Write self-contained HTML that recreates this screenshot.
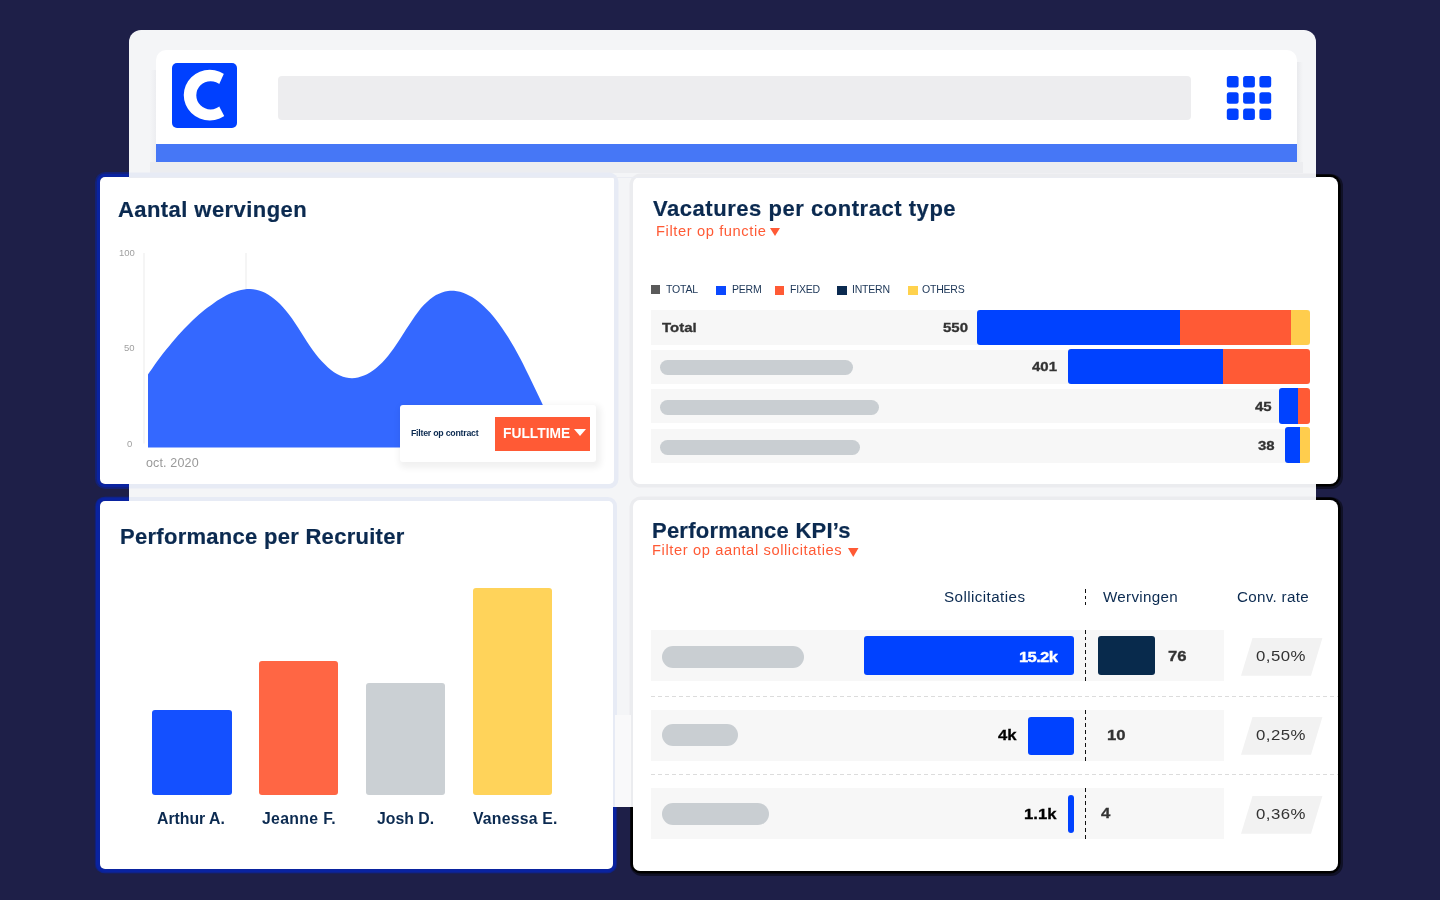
<!DOCTYPE html>
<html><head><meta charset="utf-8">
<style>
*{margin:0;padding:0;box-sizing:border-box}
html,body{width:1440px;height:900px;overflow:hidden;background:#1E1F48;font-family:"Liberation Sans",sans-serif}
.a{position:absolute}
.t{position:absolute;white-space:nowrap;line-height:1;will-change:transform}
.title{font-weight:bold;color:#0B2A50;font-size:22px;-webkit-text-stroke:0.2px #0B2A50}
.sub{color:#FF5A35;font-size:14.7px;letter-spacing:0.6px}
.num{font-weight:bold;color:#333;font-size:13px}
.vb{transform:scaleX(1.15);transform-origin:0 0;-webkit-text-stroke:0.3px currentColor}
.leg{font-size:10.5px;color:#1B3556;letter-spacing:-0.2px}
.pill{background:#C9CED2;border-radius:999px}
.bar{display:flex;border-radius:3px;overflow:hidden}
.bar>div{height:100%}
.lbl{font-weight:bold;color:#0B2A50;font-size:15.8px}
.hdr{color:#0B2A50;font-size:15.2px;letter-spacing:0.3px}
.dash{height:1px;background:repeating-linear-gradient(90deg,#DCDCDC 0 4px,transparent 4px 7px)}
.vdash{width:1.3px;background:repeating-linear-gradient(180deg,#111 0 3.7px,transparent 3.7px 6.7px)}
.pct{color:#333;font-size:14.6px;letter-spacing:0.4px;transform:scaleX(1.15);transform-origin:0 0}
</style></head>
<body>
<!-- dark shadows (outside browser) -->
<div class="a" style="left:100px;top:177px;width:514px;height:307px;border-radius:5px;box-shadow:0 0 0 3.2px #0A23A0,0 0 0 5px rgba(10,35,160,.5)"></div>
<div class="a" style="left:100px;top:501px;width:513px;height:368px;border-radius:5px;box-shadow:0 0 0 3px #0A23A0,-1px 0 0 3px #0A23A0,0 0 0 4.2px rgba(10,35,160,.5),-1px 0 0 4.2px rgba(10,35,160,.5)"></div>
<div class="a" style="left:633px;top:177px;width:705px;height:307px;border-radius:8px;box-shadow:0 0 0 2.6px #000,1px 1px 0 4px rgba(0,0,0,.45)"></div>
<div class="a" style="left:633px;top:500px;width:705px;height:371px;border-radius:8px;box-shadow:0 0 0 2.6px #000,1px 1px 0 4px rgba(0,0,0,.45)"></div>

<!-- browser window -->
<div class="a" style="left:129px;top:30px;width:1187px;height:777px;background:#F4F5F7;border-radius:12px;overflow:hidden">
  <!-- header shadow band -->
  <div class="a" style="left:21px;top:132px;width:1153px;height:11px;background:#ECEDF0"></div>
  <div class="a" style="left:1168px;top:32px;width:6px;height:100px;background:linear-gradient(90deg,#E9EAED,#F4F5F7)"></div>
  <div class="a" style="left:21px;top:40px;width:6px;height:92px;background:linear-gradient(270deg,#EDEEF1,#F4F5F7)"></div>
  <!-- light card shadows -->
  <div class="a" style="left:-29px;top:147px;width:514px;height:307px;border-radius:5px;box-shadow:0 0 0 4.5px #E7EBF5"></div>
  <div class="a" style="left:-29px;top:471px;width:513px;height:368px;border-radius:5px;box-shadow:0 0 0 4px #E7EBF5"></div>
  <div class="a" style="left:504px;top:147px;width:705px;height:307px;border-radius:8px;box-shadow:0 0 0 3.5px #EBECEF"></div>
  <div class="a" style="left:504px;top:470px;width:705px;height:371px;border-radius:8px;box-shadow:0 0 0 3.5px #EBECEF"></div>
  <div class="a" style="left:486px;top:685px;width:16px;height:92px;background:#F9F9FA"></div>
  <!-- header panel -->
  <div class="a" style="left:27px;top:20px;width:1141px;height:112px;background:#fff;border-radius:10px 10px 0 0;overflow:hidden">
    <div class="a" style="left:0;top:94px;width:1141px;height:18px;background:#4677F6"></div>
  </div>
</div>

<!-- header content -->
<div class="a" style="left:171.6px;top:63px;width:65.2px;height:65px;background:#0040FF;border-radius:5px"></div>
<svg class="a" style="left:0;top:0" width="1440" height="200" viewBox="0 0 1440 200">
  <path d="M183.75 95.1 A26 25.4 0 1 0 235.75 95.1 A26 25.4 0 1 0 183.75 95.1 Z M196.3 95.35 A14.3 14.15 0 1 0 224.9 95.35 A14.3 14.15 0 1 0 196.3 95.35 Z" fill="#fff" fill-rule="evenodd"/>
  <path d="M226.45 68 L219.6 83.2 L214.5 95.2 L219.6 107.2 L227.1 121.5 L236.8 121.5 L236.8 68 Z" fill="#0040FF"/>
</svg>
<div class="a" style="left:278px;top:76px;width:913px;height:44px;background:#EDEDEF;border-radius:4px"></div>
<svg class="a" style="left:1226px;top:76px" width="46" height="44" viewBox="0 0 46 44">
  <g fill="#0040FF">
    <rect x="0.8" y="0" width="11.8" height="11.5" rx="2.5"/><rect x="17.1" y="0" width="11.8" height="11.5" rx="2.5"/><rect x="33.4" y="0" width="11.8" height="11.5" rx="2.5"/>
    <rect x="0.8" y="16.3" width="11.8" height="11.5" rx="2.5"/><rect x="17.1" y="16.3" width="11.8" height="11.5" rx="2.5"/><rect x="33.4" y="16.3" width="11.8" height="11.5" rx="2.5"/>
    <rect x="0.8" y="32.5" width="11.8" height="11.5" rx="2.5"/><rect x="17.1" y="32.5" width="11.8" height="11.5" rx="2.5"/><rect x="33.4" y="32.5" width="11.8" height="11.5" rx="2.5"/>
  </g>
</svg>

<!-- CARD 1 -->
<div class="a" style="left:100px;top:177px;width:514px;height:307px;background:#fff;border-radius:5px 3px 5px 5px"></div>
<div id="t1" class="t title" style="left:118.3px;top:199.1px;letter-spacing:0.43px">Aantal wervingen</div>
<svg class="a" style="left:0;top:0" width="620" height="480" viewBox="0 0 620 480">
  <rect x="143.5" y="253" width="1" height="190.5" fill="#EBEBEB"/>
  <rect x="245.5" y="253" width="1" height="40" fill="#EBEBEB"/>
  <path d="M148,447.4 L148.0,374.5 C149.0,373.1 152.0,368.7 154.0,365.8 C156.0,363.0 158.0,360.3 160.0,357.6 C162.0,354.9 164.0,352.3 166.0,349.8 C168.0,347.3 170.0,344.8 172.0,342.4 C174.0,340.1 176.0,337.7 178.0,335.5 C180.0,333.3 182.0,331.1 184.0,329.0 C186.0,326.9 188.0,324.9 190.0,323.0 C192.0,321.0 194.0,319.1 196.0,317.3 C198.0,315.5 200.0,313.8 202.0,312.1 C204.0,310.4 206.0,308.8 208.0,307.3 C210.0,305.8 212.0,304.3 214.0,302.9 C216.0,301.5 218.0,300.2 220.0,299.0 C222.0,297.7 224.0,296.6 226.0,295.5 C228.0,294.5 230.0,293.6 232.0,292.8 C234.0,292.0 236.0,291.2 238.0,290.7 C240.0,290.1 242.0,289.7 244.0,289.4 C246.0,289.2 248.0,289.1 250.0,289.1 C252.0,289.2 254.0,289.4 256.0,289.8 C258.0,290.2 260.0,290.8 262.0,291.6 C264.0,292.4 266.0,293.3 268.0,294.5 C270.0,295.7 272.0,297.1 274.0,298.7 C276.0,300.3 278.0,302.1 280.0,304.1 C282.0,306.1 284.0,308.3 286.0,310.7 C288.0,313.1 290.0,315.8 292.0,318.6 C294.0,321.4 296.0,324.5 298.0,327.6 C300.0,330.7 302.0,334.0 304.0,337.1 C306.0,340.2 308.0,343.3 310.0,346.2 C312.0,349.1 314.0,351.9 316.0,354.4 C318.0,357.0 320.0,359.4 322.0,361.6 C324.0,363.7 326.0,365.8 328.0,367.5 C330.0,369.3 332.0,370.9 334.0,372.3 C336.0,373.6 338.0,374.8 340.0,375.6 C342.0,376.5 344.0,377.2 346.0,377.6 C348.0,378.0 350.0,378.2 352.0,378.2 C354.0,378.2 356.0,377.9 358.0,377.5 C360.0,377.1 362.0,376.4 364.0,375.6 C366.0,374.7 368.0,373.7 370.0,372.5 C372.0,371.2 374.0,369.8 376.0,368.2 C378.0,366.5 380.0,364.7 382.0,362.7 C384.0,360.6 386.0,358.4 388.0,356.0 C390.0,353.5 392.0,350.9 394.0,348.1 C396.0,345.3 398.0,342.2 400.0,339.1 C402.0,336.0 404.0,332.8 406.0,329.6 C408.0,326.5 410.0,323.3 412.0,320.4 C414.0,317.4 416.0,314.5 418.0,311.9 C420.0,309.3 422.0,306.9 424.0,304.8 C426.0,302.7 428.0,300.9 430.0,299.2 C432.0,297.6 434.0,296.3 436.0,295.1 C438.0,294.0 440.0,293.1 442.0,292.4 C444.0,291.7 446.0,291.2 448.0,290.9 C450.0,290.6 452.0,290.6 454.0,290.7 C456.0,290.9 458.0,291.2 460.0,291.7 C462.0,292.3 464.0,293.0 466.0,293.9 C468.0,294.8 470.0,295.8 472.0,297.1 C474.0,298.3 476.0,299.7 478.0,301.3 C480.0,302.8 482.0,304.6 484.0,306.5 C486.0,308.4 488.0,310.4 490.0,312.6 C492.0,314.9 494.0,317.3 496.0,319.8 C498.0,322.4 500.0,325.1 502.0,327.9 C504.0,330.8 506.0,333.9 508.0,337.0 C510.0,340.2 512.0,343.6 514.0,347.1 C516.0,350.6 518.0,354.3 520.0,358.1 C522.0,361.9 524.0,365.9 526.0,369.9 C528.0,373.9 530.0,378.1 532.0,382.2 C534.0,386.4 536.0,390.6 538.0,394.8 C540.0,399.0 542.0,403.2 544.0,407.4 C546.0,411.7 548.0,415.9 550.0,420.2 C552.0,424.4 554.0,428.7 556.0,433.0 C558.0,437.4 560.8,443.6 562.0,446.2 C563.2,448.8 562.8,448.1 563.0,448.4 L563.0,447.4 Z" fill="#3468FF"/>
</svg>
<div class="t" style="left:119px;top:248px;font-size:9.5px;color:#A0A0A0">100</div>
<div class="t" style="left:123.6px;top:343px;font-size:9.5px;color:#A0A0A0">50</div>
<div class="t" style="left:127.2px;top:438.5px;font-size:9.5px;color:#A0A0A0">0</div>
<div class="t" style="left:146.3px;top:457.2px;font-size:12.5px;letter-spacing:0.15px;color:#999">oct. 2020</div>
<!-- filter popup -->
<div class="a" style="left:400px;top:405px;width:196px;height:57px;background:#fff;border-radius:3px;box-shadow:2px 3px 6px 3px rgba(0,0,0,0.06)"></div>
<div class="t" style="left:411px;top:428.9px;font-size:8.8px;letter-spacing:-0.25px;font-weight:bold;color:#0B2A50">Filter op contract</div>
<div class="a" style="left:495.3px;top:417.3px;width:94.6px;height:33.3px;background:#FF5A35"></div>
<div class="t" style="left:503.3px;top:427px;font-size:13.8px;font-weight:bold;color:#fff">FULLTIME</div>
<svg class="a" style="left:574px;top:429px" width="12" height="7" viewBox="0 0 12 7"><path d="M0 0H12L6 7Z" fill="#fff"/></svg>

<!-- CARD 2 -->
<div class="a" style="left:633px;top:177px;width:705px;height:307px;background:#fff;border-radius:7px 8px 8px 7px"></div>
<div class="a" style="left:129px;top:177px;width:1187px;height:1px;background:#EAECF2"></div>
<div id="t2" class="t title" style="left:652.5px;top:198.2px;letter-spacing:0.54px">Vacatures per contract type</div>
<div id="s2" class="t sub" style="left:655.5px;top:223.7px">Filter op functie</div>
<svg class="a" style="left:770px;top:228px" width="10" height="8" viewBox="0 0 10 8"><path d="M0 0H10L5 8Z" fill="#FF5A35"/></svg>
<!-- legend -->
<div class="a" style="left:651px;top:285.3px;width:9px;height:9px;background:#5A5A5A"></div>
<div class="t leg" style="left:665.5px;top:284.3px">TOTAL</div>
<div class="a" style="left:716.3px;top:285.5px;width:9.8px;height:9.8px;background:#0A48FF"></div>
<div class="t leg" style="left:732px;top:284.3px">PERM</div>
<div class="a" style="left:774.7px;top:285.5px;width:9.5px;height:9.8px;background:#FF5A35"></div>
<div class="t leg" style="left:789.5px;top:284.3px">FIXED</div>
<div class="a" style="left:837px;top:285.5px;width:10px;height:9.8px;background:#0B2A50"></div>
<div class="t leg" style="left:852.3px;top:284.3px">INTERN</div>
<div class="a" style="left:907.7px;top:285.5px;width:10px;height:9.8px;background:#FFD24D"></div>
<div class="t leg" style="left:921.7px;top:284.3px">OTHERS</div>
<!-- rows -->
<div class="a" style="left:651px;top:310px;width:658.5px;height:34.5px;background:#F7F7F7"></div>
<div class="a" style="left:651px;top:349.5px;width:658.5px;height:34.5px;background:#F7F7F7"></div>
<div class="a" style="left:651px;top:389.3px;width:658.5px;height:34px;background:#F7F7F7"></div>
<div class="a" style="left:651px;top:428.8px;width:658.5px;height:34px;background:#F7F7F7"></div>
<div id="n_total" class="t num vb" style="left:662.2px;top:320.8px">Total</div>
<div id="n550" class="t num vb" style="left:943px;top:320.8px">550</div>
<div class="a pill" style="left:659.6px;top:359.8px;width:193.4px;height:15px"></div>
<div id="n401" class="t num vb" style="left:1031.8px;top:360.2px">401</div>
<div class="a pill" style="left:659.6px;top:399.9px;width:219px;height:15px"></div>
<div id="n45" class="t num vb" style="left:1254.7px;top:399.7px">45</div>
<div class="a pill" style="left:659.6px;top:439.8px;width:200.6px;height:15px"></div>
<div id="n38" class="t num vb" style="left:1258px;top:439.2px">38</div>
<!-- bars -->
<div class="a bar" style="left:977.4px;top:309.5px;width:332.4px;height:35.2px">
  <div style="width:203.1px;background:#0042FF"></div><div style="width:110.6px;background:#FF5A35"></div><div style="flex:1;background:#FFCD4D"></div>
</div>
<div class="a bar" style="left:1068.3px;top:348.8px;width:241.5px;height:35.5px">
  <div style="width:155.2px;background:#0042FF"></div><div style="flex:1;background:#FF5A35"></div>
</div>
<div class="a bar" style="left:1278.8px;top:388px;width:31px;height:35.5px">
  <div style="width:19.2px;background:#0042FF"></div><div style="flex:1;background:#FF5A35"></div>
</div>
<div class="a bar" style="left:1285px;top:427.3px;width:24.8px;height:35.6px">
  <div style="width:15px;background:#0042FF"></div><div style="flex:1;background:#FFCD4D"></div>
</div>

<!-- CARD 3 -->
<div class="a" style="left:100px;top:501px;width:513px;height:368px;background:#fff;border-radius:5px"></div>
<div id="t3" class="t title" style="left:120.3px;top:525.8px;letter-spacing:0.28px">Performance per Recruiter</div>
<div class="a" style="left:152.3px;top:710.2px;width:79.4px;height:85px;background:#1450FF;border-radius:3px"></div>
<div class="a" style="left:259.1px;top:661.3px;width:79.2px;height:133.9px;background:#FF6644;border-radius:3px"></div>
<div class="a" style="left:366.2px;top:682.7px;width:79.1px;height:112.5px;background:#CBD0D4;border-radius:3px"></div>
<div class="a" style="left:472.9px;top:588.4px;width:79.1px;height:206.8px;background:#FFD35A;border-radius:3px"></div>
<div class="t lbl" style="left:157.2px;top:810.5px">Arthur A.</div>
<div class="t lbl" style="left:262.4px;top:810.5px;letter-spacing:0.33px">Jeanne F.</div>
<div class="t lbl" style="left:376.9px;top:810.5px">Josh D.</div>
<div class="t lbl" style="left:472.9px;top:810.5px;letter-spacing:0.2px">Vanessa E.</div>

<!-- CARD 4 -->
<div class="a" style="left:633px;top:500px;width:705px;height:371px;background:#fff;border-radius:7px 8px 8px 7px"></div>
<div id="t4" class="t title" style="left:651.8px;top:519.9px;letter-spacing:0.23px">Performance KPI&#8217;s</div>
<div id="s4" class="t sub" style="left:651.5px;top:543.3px">Filter op aantal sollicitaties</div>
<svg class="a" style="left:848px;top:548px" width="10.5" height="9" viewBox="0 0 10.5 9"><path d="M0 0H10.5L5.25 8.9Z" fill="#FF5A35"/></svg>
<div id="h1" class="t hdr" style="left:943.9px;top:588.9px;letter-spacing:0.42px">Sollicitaties</div>
<div id="h2" class="t hdr" style="left:1102.8px;top:588.9px">Wervingen</div>
<div id="h3" class="t hdr" style="left:1236.7px;top:588.9px">Conv. rate</div>
<!-- row bgs -->
<div class="a" style="left:651px;top:630px;width:573px;height:51px;background:#F7F7F7"></div>
<div class="a" style="left:651px;top:710px;width:573px;height:51px;background:#F7F7F7"></div>
<div class="a" style="left:651px;top:788.2px;width:573px;height:51px;background:#F7F7F7"></div>
<!-- separators -->
<div class="a dash" style="left:651px;top:695.5px;width:687px"></div>
<div class="a dash" style="left:651px;top:774.3px;width:687px"></div>
<!-- vertical dashed -->
<div class="a vdash" style="left:1085px;top:589px;height:16px"></div>
<div class="a vdash" style="left:1085px;top:630px;height:51px"></div>
<div class="a vdash" style="left:1085px;top:710px;height:51px"></div>
<div class="a vdash" style="left:1085px;top:788.2px;height:51px"></div>
<!-- pills -->
<div class="a pill" style="left:661.5px;top:646.2px;width:142.5px;height:21.4px"></div>
<div class="a pill" style="left:661.6px;top:724.4px;width:76.2px;height:21.8px"></div>
<div class="a pill" style="left:661.6px;top:802.9px;width:107.3px;height:22px"></div>
<!-- bars -->
<div class="a" style="left:864px;top:636px;width:210px;height:38.9px;background:#0042FF;border-radius:3px"></div>
<div id="n152" class="t num vb" style="left:1019px;top:649.8px;color:#fff;font-size:14.5px;letter-spacing:-0.6px">15.2k</div>
<div class="a" style="left:1098.3px;top:636px;width:56.6px;height:38.9px;background:#082A4C;border-radius:3px"></div>
<div id="n76" class="t num vb" style="left:1167.7px;top:648.5px;font-size:14.5px">76</div>
<div class="a" style="left:1027.8px;top:716.5px;width:46.2px;height:38.5px;background:#0042FF;border-radius:3px"></div>
<div id="n4k" class="t num vb" style="left:997.6px;top:728px;color:#000;font-size:14.5px">4k</div>
<div id="n10" class="t num vb" style="left:1107px;top:728px;font-size:14.5px">10</div>
<div class="a" style="left:1068px;top:794.7px;width:6px;height:38.5px;background:#0042FF;border-radius:3px"></div>
<div id="n11k" class="t num vb" style="left:1023.8px;top:806.5px;color:#000;font-size:14.5px">1.1k</div>
<div id="n4" class="t num vb" style="left:1100.7px;top:806.2px;font-size:14.5px">4</div>
<!-- conv rate -->
<svg class="a" style="left:1240px;top:637px" width="84" height="40" viewBox="0 0 84 40">
  <path d="M12.5 1H82.4L71 38.8H1Z" fill="#F2F2F2"/>
</svg>
<svg class="a" style="left:1240px;top:716px" width="84" height="40" viewBox="0 0 84 40"><path d="M12.5 1H82.4L71 38.8H1Z" fill="#F2F2F2"/></svg>
<svg class="a" style="left:1240px;top:794.5px" width="84" height="40" viewBox="0 0 84 40"><path d="M12.5 1H82.4L71 38.8H1Z" fill="#F2F2F2"/></svg>
<div id="p1" class="t pct" style="left:1255.8px;top:649.1px">0,50%</div>
<div class="t pct" style="left:1255.8px;top:728.1px">0,25%</div>
<div class="t pct" style="left:1255.8px;top:806.6px">0,36%</div>

</body></html>
